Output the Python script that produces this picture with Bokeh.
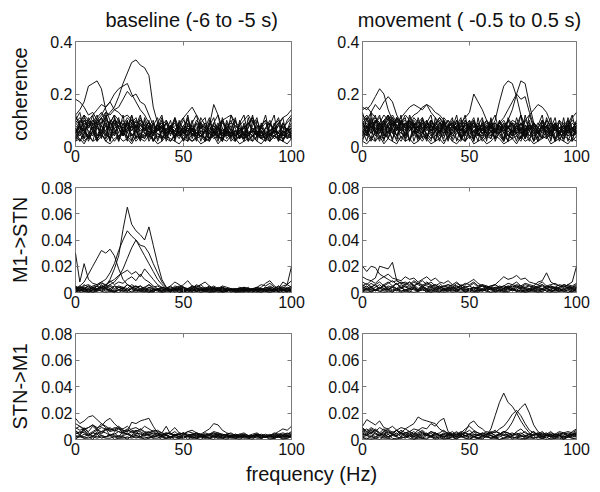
from bokeh.plotting import figure
from bokeh.layouts import column, row
from bokeh.models import Range1d, LinearAxis, FixedTicker, Label, Title, CustomLabelingPolicy
from bokeh.embed import file_html
from bokeh.resources import INLINE

# frequency grid (Hz)
freq = list(range(0, 101, 2))

# coherence, in units of 0.01
COH_UNIT = 0.01
coh_base = [
    [8,6,9,7,10,8,9,11,13,15, 19,24,28,32,33,31,30,27,15,9, 7,6,5,6,4,5,7,6,5,4, 6,5,4,6,5,4,5,6,4,5, 6,4,5,3,4,5,6,4,5,6, 5],
    [12,14,17,23,24,25,22,14,10,9, 8,7,9,6,8,7,5,6,4,7, 5,6,8,5,4,6,7,5,4,6, 5,3,5,7,4,6,5,3,4,6, 5,4,7,5,3,4,6,5,4,5, 6],
    [18,17,15,12,13,10,9,11,8,10, 9,7,8,10,8,6,7,5,6,8, 7,5,6,4,5,7,6,8,5,4, 6,5,7,4,3,5,6,4,5,3, 4,6,5,4,6,5,3,4,5,7, 6],
    [6,8,5,9,7,10,12,15,17,20, 22,23,24,20,17,14,12,9,7,8, 6,5,7,6,8,5,6,4,5,7, 6,5,4,6,5,7,4,5,6,4, 5,6,4,7,5,4,6,5,3,4, 5],
    [5,7,6,8,10,9,11,13,12,14, 15,18,21,19,20,17,16,12,8,6, 7,5,6,4,7,5,6,5,4,6, 5,7,6,4,5,6,4,5,7,5, 4,6,5,4,5,6,7,5,4,6, 5],
    [9,11,8,10,12,14,16,15,17,14, 13,11,12,10,9,10,8,7,9,6, 8,5,7,6,5,8,6,7,5,4, 6,8,5,7,6,5,4,6,5,7, 5,6,4,5,7,6,5,4,6,5, 7],
    [7,5,8,6,4,7,6,9,7,5, 8,6,9,7,10,8,6,7,5,8, 6,7,5,6,9,11,13,15,12,9, 7,6,8,5,6,7,5,4,6,8, 5,7,6,4,5,6,7,5,8,6, 7],
    [4,6,3,5,7,4,6,5,3,6, 4,5,7,4,6,3,5,4,6,5, 3,4,6,5,4,7,5,6,4,5, 6,8,16,12,7,5,4,6,5,3, 4,6,5,3,4,5,6,4,3,5, 4],
    [10,8,11,9,7,10,8,6,9,7, 8,10,7,9,6,8,7,9,6,8, 7,9,6,8,7,10,8,6,9,7, 8,6,9,7,10,11,12,9,8,10, 12,9,7,8,10,8,7,9,11,12, 14],
    [6,4,7,3,5,8,4,6,3,5, 7,4,6,8,3,5,4,7,5,3, 6,4,8,5,3,6,4,7,5,4, 3,6,5,4,7,3,5,6,4,3, 5,7,4,6,3,5,4,6,5,3, 4],
    [3,5,2,4,6,3,5,2,4,7, 3,5,4,2,6,3,4,5,2,4, 3,5,2,4,6,3,2,5,3,4, 2,5,3,4,2,6,3,2,4,5, 3,2,4,3,5,2,4,3,2,5, 3],
    [9,7,10,8,6,9,11,8,7,10, 9,6,8,10,7,9,6,8,5,7, 9,6,8,7,5,8,10,7,6,9, 7,5,8,6,9,7,5,8,6,7, 9,6,8,5,7,9,6,8,7,6, 8],
    [2,3,1,4,2,3,5,2,1,3, 4,2,3,1,4,3,2,4,3,1, 2,4,3,2,1,3,4,2,3,1, 2,3,4,1,3,2,4,3,1,2, 3,4,2,1,3,2,4,3,2,1, 3],
    [5,8,6,4,9,7,5,8,6,10, 7,5,9,6,8,4,7,9,5,6, 8,5,7,9,6,4,8,6,5,7, 9,6,4,7,5,8,6,4,7,5, 9,6,5,8,4,6,7,5,9,6, 7],
    [11,9,12,10,8,11,13,10,9,12, 10,8,11,9,7,10,8,9,7,6, 8,10,7,6,9,7,8,6,10,8, 7,9,6,8,10,7,9,8,6,7, 9,11,8,7,9,6,8,10,7,9, 11],
    [4,2,5,3,6,2,4,3,5,2, 4,6,3,5,2,4,3,6,2,5, 4,3,2,5,4,6,3,2,4,5, 3,2,5,4,3,6,2,4,3,5, 2,4,6,3,2,5,4,3,6,4, 3],
    [12,8,3,10,6,2,9,13,5,8, 11,4,7,12,3,9,6,10,2,7, 11,5,8,3,10,6,12,4,9,2, 7,11,5,8,3,10,6,2,9,12, 4,8,11,3,7,10,5,2,9,6, 11],
    [3,9,12,5,2,8,11,4,10,6, 2,9,5,12,7,3,10,4,8,11, 3,6,10,2,8,5,11,3,7,9, 2,10,6,3,11,5,8,2,10,4, 7,12,3,9,5,2,8,11,4,6, 9],
    [7,2,5,11,8,3,6,10,2,9, 5,12,3,8,6,2,11,7,4,9, 2,10,6,3,8,11,4,7,2,9, 11,3,6,9,2,7,10,4,8,3, 11,5,2,8,10,3,6,9,2,7, 4],
    [10,13,6,3,9,12,5,8,2,11, 7,4,10,2,8,12,5,3,9,6, 10,2,7,11,4,6,2,9,12,5, 3,8,11,4,2,9,6,11,3,8, 2,10,5,7,12,4,9,3,6,10, 12],
    [5,10,8,2,6,9,3,12,7,4, 10,6,2,9,11,5,3,8,10,2, 6,9,4,11,7,2,5,10,3,8, 6,2,9,12,4,7,3,10,5,2, 8,11,4,6,2,9,5,8,11,3, 6],
    [2,6,10,7,12,4,8,3,9,12, 2,7,10,4,6,11,8,2,5,9, 12,3,7,10,5,2,9,6,4,11, 8,3,6,2,10,4,12,7,3,9, 5,2,10,6,3,8,12,2,5,7, 3],
]
coh_move = [
    [15,14,16,19,22,20,14,10,8,9, 7,10,8,6,9,7,5,8,6,7, 5,8,6,4,7,5,6,8,5,7, 4,6,5,8,6,4,7,5,6,4, 7,5,6,8,4,5,7,6,4,5, 8],
    [14,15,13,16,14,17,19,17,12,9, 10,8,11,9,7,8,10,7,6,8, 7,9,6,8,5,7,6,4,7,5, 8,6,5,7,4,6,8,5,6,7, 5,6,4,7,5,8,6,5,7,4, 6],
    [8,10,7,9,11,8,10,12,9,11, 13,15,16,15,14,16,13,11,9,8, 10,7,9,6,8,10,7,9,6,8, 7,5,8,6,7,9,5,6,8,7, 5,6,8,7,9,6,5,7,8,6, 9],
    [6,8,5,7,9,6,8,10,7,9, 8,10,12,13,15,16,15,13,12,10, 8,9,7,6,8,7,9,6,8,5, 7,6,8,5,7,6,8,5,7,6, 8,5,7,6,4,7,5,6,8,7, 5],
    [7,5,8,6,9,7,5,8,6,9, 7,10,8,6,9,7,10,8,11,9, 7,10,8,9,11,13,20,17,14,10, 8,9,7,6,8,5,7,9,6,8, 7,5,8,6,9,7,5,8,6,7, 9],
    [9,7,10,8,6,9,7,11,8,6, 9,7,10,8,6,9,7,8,6,9, 7,5,8,6,9,7,5,8,6,9, 7,10,17,23,25,24,19,12,8,6, 9,7,5,8,6,9,7,5,8,6, 7],
    [5,7,9,6,8,10,7,5,8,6, 9,7,5,8,10,6,8,7,5,9, 6,8,7,5,9,6,8,7,5,6, 8,6,9,7,10,14,20,25,24,16, 9,7,6,8,5,7,6,8,5,7, 6],
    [8,6,9,7,5,8,6,9,7,5, 8,6,9,7,5,8,6,9,7,5, 8,6,7,9,5,8,6,7,5,8, 6,7,9,11,14,17,20,18,19,13, 8,6,7,5,8,6,7,9,5,6, 8],
    [10,12,9,11,8,10,12,9,7,10, 8,11,9,7,10,8,6,9,11,8, 7,9,6,8,10,7,9,6,8,7, 9,6,8,10,7,9,8,6,10,12, 14,16,15,13,9,7,10,8,6,11, 13],
    [3,5,2,6,4,3,5,7,4,2, 5,3,6,4,2,5,3,4,6,2, 4,5,3,2,6,4,3,5,2,4, 3,6,4,2,5,3,4,2,6,3, 5,2,4,3,6,2,5,4,3,2, 4],
    [7,9,6,10,8,5,9,7,11,8, 6,9,7,5,8,10,6,7,9,5, 8,6,10,7,5,8,9,6,7,10, 5,8,6,9,7,5,8,6,10,7, 9,5,8,6,7,9,5,8,6,9, 7],
    [12,10,13,11,9,12,10,8,11,9, 12,10,8,9,11,7,9,8,10,6, 8,9,7,10,8,6,9,7,8,10, 7,9,6,8,7,10,9,7,8,6, 9,7,10,8,6,9,7,8,10,7, 9],
    [2,1,3,2,4,1,3,2,1,4, 2,3,1,2,4,3,1,2,3,1, 4,2,1,3,2,4,1,2,3,1, 2,4,3,1,2,3,1,4,2,3, 1,2,3,4,1,2,3,2,1,3, 2],
    [6,4,8,5,7,3,6,9,4,7, 5,8,6,4,7,5,3,6,8,4, 6,5,7,3,6,4,8,5,4,7, 6,3,5,7,4,6,5,3,7,4, 6,5,8,4,6,3,5,7,4,6, 5],
    [4,6,3,5,8,4,6,3,7,5, 4,6,8,3,5,7,4,6,3,5, 7,4,6,3,5,8,4,6,3,5, 4,7,5,3,6,4,5,7,3,6, 4,5,3,6,4,7,5,3,6,4, 5],
    [9,11,8,10,7,9,12,8,10,7, 9,6,8,10,7,9,8,6,9,7, 10,8,6,9,7,8,10,6,9,7, 8,6,9,7,10,8,6,9,7,8, 6,9,7,10,8,6,9,7,8,10, 8],
    [9,4,11,6,2,8,12,5,3,10, 7,2,9,5,11,3,8,6,2,10, 4,7,12,3,6,9,2,8,11,4, 6,3,10,7,2,9,5,12,3,8, 6,2,10,4,7,11,3,5,9,2, 8],
    [4,11,7,2,9,5,3,10,6,12, 2,8,4,11,6,3,9,2,7,10, 5,3,8,11,2,6,10,4,7,3, 9,12,5,2,8,4,11,6,3,9, 2,7,10,5,3,8,4,11,2,6, 10],
    [13,7,3,9,12,4,8,2,11,6, 3,10,7,2,5,9,12,4,6,3, 8,11,2,7,4,10,3,6,9,2, 11,5,8,3,10,6,2,9,4,12, 7,3,6,10,2,8,5,3,11,7, 4],
    [6,2,9,12,5,10,3,7,4,9, 11,2,6,8,3,10,5,2,9,7, 3,6,10,4,2,8,11,5,3,7, 10,2,6,9,4,3,8,12,5,2, 9,6,3,11,7,2,10,4,8,3, 6],
    [2,8,5,10,3,7,11,6,2,9, 4,12,8,3,6,2,10,7,4,11, 9,2,5,8,12,3,6,2,10,5, 3,9,7,2,11,8,4,3,6,10, 2,8,12,3,5,9,2,6,10,4, 7],
    [10,5,13,4,7,2,9,11,8,3, 6,10,2,7,9,4,2,11,5,8, 2,9,6,3,10,7,2,11,4,6, 8,3,10,5,2,7,9,3,12,6, 2,4,9,7,11,3,6,2,8,12, 5],
]

# Granger causality, in units of 0.001
GC_UNIT = 0.001
gc_m1stn_base = [
    [2,3,1,2,3,2,4,5,10,18, 28,48,65,52,47,44,40,50,36,22, 10,4,3,2,4,3,2,3,5,3, 2,4,3,2,1,3,2,2,3,2, 1,2,3,2,3,2,1,2,3,2, 4],
    [3,2,4,3,5,6,8,10,15,22, 32,40,47,43,40,36,35,30,22,15, 8,4,2,3,2,1,3,2,4,2, 3,2,1,2,3,2,1,2,3,1, 2,3,2,1,2,3,2,1,2,3, 2],
    [3,5,8,14,20,26,32,30,33,28, 18,10,6,4,3,2,3,2,1,2, 3,2,1,3,2,4,2,3,1,2, 3,2,4,3,2,1,2,3,2,1, 2,3,1,2,4,3,2,1,2,3, 2],
    [2,1,3,2,4,3,5,4,6,8, 12,18,26,34,40,34,28,22,16,10, 6,3,2,1,2,3,2,1,3,2, 1,2,3,2,1,2,3,1,2,3, 2,1,2,3,1,2,1,3,2,1, 2],
    [30,8,22,10,7,6,8,5,9,6, 8,7,10,12,9,14,10,8,5,3, 2,3,2,4,3,2,3,4,2,3, 2,3,5,3,2,3,2,3,2,4, 3,2,3,2,4,3,2,5,3,6, 20],
    [4,3,5,6,4,5,7,6,8,10, 13,15,17,14,16,12,18,14,10,6, 4,3,5,8,6,4,3,5,4,6, 3,4,2,3,5,4,3,2,3,4, 3,2,4,6,5,7,4,3,5,6, 4],
    [2,4,3,5,2,3,4,6,3,5, 4,3,6,4,5,3,4,6,3,2, 4,3,2,5,4,6,9,5,4,6, 8,5,3,2,4,3,2,1,2,3, 2,3,2,4,7,9,5,3,8,6, 9],
    [1,2,1,0,2,1,3,1,2,1, 0,2,1,3,2,1,2,0,1,2, 1,3,1,2,0,1,2,1,3,1, 2,1,0,2,1,1,2,0,1,2, 1,2,1,0,2,1,3,1,2,1, 2],
    [3,4,2,5,3,2,4,3,5,2, 4,3,6,4,3,5,2,4,3,2, 4,3,5,2,3,4,2,5,3,2, 4,3,2,3,4,2,3,2,4,3, 2,3,4,2,3,5,3,2,4,3, 5],
    [5,3,6,4,2,5,3,4,6,3, 5,4,3,6,4,5,3,6,4,5, 3,2,4,3,5,4,2,3,6,4, 3,5,2,4,3,2,3,2,3,2, 3,2,4,3,2,4,3,5,2,4, 3],
    [1,0,1,1,0,2,1,0,1,1, 2,1,0,1,2,1,1,0,2,1, 0,1,1,2,0,1,1,0,1,2, 1,0,1,1,0,1,2,1,0,1, 1,0,2,1,1,0,1,1,2,0, 1],
    [2,1,3,2,1,2,4,2,3,1, 2,3,2,4,1,3,2,1,2,3, 1,2,1,3,2,1,2,3,1,2, 2,1,3,2,1,2,1,2,3,1, 2,1,2,3,1,2,1,3,2,1, 2],
    [0,2,1,3,0,1,2,4,1,0, 2,1,3,0,2,1,0,3,1,2, 0,1,2,0,3,1,0,2,1,0, 2,0,1,3,0,1,2,0,1,3, 0,2,1,0,2,1,3,0,1,2, 0],
    [4,1,3,0,2,5,1,3,2,0, 4,2,1,3,0,2,4,1,0,3, 1,2,0,3,1,0,2,1,3,0, 1,2,4,0,1,3,0,2,1,0, 3,1,0,2,1,0,2,3,0,1, 3],
    [2,5,3,1,4,2,6,3,1,5, 2,4,1,3,5,2,1,4,2,3, 1,3,2,1,4,2,3,1,2,4, 1,3,1,2,4,1,2,3,1,2, 4,1,2,3,1,2,1,4,2,3, 1],
]
gc_m1stn_move = [
    [20,16,20,19,14,12,10,8,9,7, 6,8,5,7,6,5,4,6,3,5, 4,3,5,4,3,2,4,3,5,4, 3,4,2,3,4,3,5,4,3,2, 3,4,5,3,2,4,3,5,4,3, 2],
    [12,10,9,11,20,19,18,23,9,7, 8,6,9,7,5,8,6,4,5,3, 4,6,5,3,4,5,3,4,6,5, 4,3,5,4,3,5,4,3,4,5, 3,4,3,5,4,3,4,6,5,4, 3],
    [8,6,9,7,10,12,14,11,10,9, 12,10,11,8,10,12,9,11,8,7, 9,6,8,5,7,6,8,5,6,4, 5,6,4,5,7,6,5,4,6,5, 4,5,6,4,5,3,4,6,5,4, 5],
    [5,7,4,6,8,5,7,9,6,8, 7,5,8,6,4,7,5,6,4,5, 6,4,7,5,6,8,10,7,5,4, 5,6,9,12,10,11,13,10,11,8, 7,6,8,5,6,7,5,4,6,5, 7],
    [3,5,2,4,6,3,5,4,3,6, 4,3,5,2,4,3,5,2,4,3, 2,4,3,5,2,3,4,2,3,5, 3,2,4,3,5,4,6,5,7,6, 5,8,9,15,8,6,5,4,6,8, 20],
    [6,4,7,5,3,6,8,5,7,4, 6,8,5,7,9,6,8,5,7,4, 6,5,3,6,4,5,7,4,5,3, 4,6,3,5,4,6,8,5,4,3, 5,4,6,3,5,4,6,5,3,4, 6],
    [2,1,3,2,1,2,3,1,2,4, 1,2,3,1,2,1,3,2,1,2, 1,3,2,1,2,3,1,2,1,2, 3,1,2,1,3,2,1,2,1,3, 2,1,2,3,1,2,1,2,3,1, 2],
    [4,3,5,2,4,3,2,5,3,4, 2,3,4,2,5,3,2,4,3,2, 3,2,4,3,2,3,2,4,2,3, 2,4,3,2,3,2,4,3,2,3, 2,4,2,3,4,2,3,2,4,3, 4],
    [1,0,1,2,1,0,1,1,2,0, 1,1,0,1,2,1,0,1,1,0, 1,2,1,0,1,1,0,1,2,1, 0,1,1,0,1,2,1,1,0,1, 1,0,1,2,1,0,1,1,0,1, 1],
    [3,2,4,6,3,5,2,4,7,3, 5,4,6,3,5,2,4,3,5,2, 3,4,2,3,5,2,4,3,2,4, 3,2,4,3,5,3,2,4,3,2, 4,3,2,5,3,4,2,3,4,2, 3],
    [2,3,1,2,3,2,4,2,3,1, 2,3,2,1,3,2,1,2,3,1, 2,1,2,3,1,2,1,2,1,3, 2,1,2,1,2,3,1,2,1,2, 1,2,3,1,2,1,2,1,2,3, 2],
    [1,3,0,2,4,1,2,0,3,1, 2,0,4,1,3,0,2,1,0,3, 2,0,1,3,0,2,1,0,2,1, 3,0,2,1,0,3,1,2,0,1, 2,0,3,1,0,2,1,3,0,2, 1],
    [5,2,4,1,3,6,2,4,1,3, 5,2,3,1,4,2,0,3,2,1, 4,2,1,3,0,2,4,1,3,2, 0,3,1,2,4,1,3,0,2,1, 3,2,0,4,1,2,3,1,2,0, 4],
]
gc_stnm1_base = [
    [16,12,14,17,18,15,12,10,8,7, 6,5,4,6,5,4,3,4,5,3, 4,3,2,3,4,2,3,4,3,2, 3,4,5,3,4,3,2,3,2,3, 2,3,2,3,2,3,2,3,4,3, 4],
    [12,10,8,9,11,9,10,14,16,12, 9,8,10,7,6,8,5,6,4,5, 3,4,5,3,2,4,3,2,4,3, 2,3,2,4,3,2,3,4,2,3, 2,3,4,2,3,2,3,2,3,2, 3],
    [4,6,5,3,5,7,6,8,7,9, 8,7,6,13,12,14,15,16,10,5, 4,5,4,6,3,5,4,3,5,4, 3,4,3,5,4,3,2,4,3,2, 3,2,4,3,2,3,4,3,2,3, 2],
    [8,10,7,9,11,8,12,9,7,8, 10,7,6,8,9,7,10,8,6,7, 5,4,6,9,5,4,6,7,5,4, 6,8,12,11,7,5,4,3,4,3, 2,3,4,3,2,3,4,6,8,7, 10],
    [6,5,7,4,6,8,5,7,9,6, 8,5,7,6,4,8,6,5,7,6, 5,10,4,3,5,4,6,5,4,3, 5,4,6,5,3,4,5,3,4,5, 3,4,5,3,4,3,5,4,3,4, 5],
    [3,2,4,3,2,5,3,2,4,3, 2,3,4,2,3,2,4,3,2,3, 2,3,2,4,2,3,2,3,2,4, 2,3,2,3,2,2,3,2,3,2, 3,2,3,2,2,3,2,3,2,3, 2],
    [1,2,1,1,2,1,2,1,1,2, 1,1,2,1,2,1,1,2,1,1, 2,1,1,2,1,1,2,1,1,2, 1,1,2,1,1,2,1,1,2,1, 1,2,1,1,2,1,1,2,1,1, 2],
    [5,4,6,3,5,4,6,5,3,4, 6,4,5,3,4,5,3,4,3,5, 3,4,2,3,4,5,3,4,3,2, 3,4,3,2,3,4,2,3,2,3, 2,3,4,3,2,3,2,4,3,2, 3],
    [2,3,2,4,3,2,3,2,3,2, 3,2,1,2,3,2,2,1,2,3, 2,1,2,2,1,2,3,1,2,2, 1,2,2,1,2,1,2,2,1,2, 2,1,2,1,2,2,1,2,1,2, 2],
    [9,7,8,6,10,7,9,8,6,7, 9,6,8,5,7,6,4,5,6,4, 3,5,4,3,4,5,3,4,5,3, 4,3,5,4,3,4,3,2,3,4, 3,2,3,4,3,2,3,4,5,4, 6],
    [0,3,1,2,0,4,1,2,3,0, 1,2,0,3,1,2,0,1,3,2, 0,1,2,0,1,3,0,2,1,0, 2,1,0,3,1,0,2,1,0,2, 1,0,3,1,2,0,1,2,0,1, 2],
    [7,3,9,5,2,6,4,8,3,5, 2,6,4,3,7,2,5,3,1,4, 2,3,1,4,2,1,3,2,1,3, 2,1,4,2,1,3,2,1,2,4, 1,2,3,1,2,4,1,2,3,5, 2],
]
gc_stnm1_move = [
    [5,3,6,4,3,5,2,4,3,5, 3,2,4,3,2,4,3,5,3,2, 4,3,2,4,3,2,4,3,5,3, 8,18,28,35,28,25,20,14,9,5, 3,4,2,3,4,2,3,2,3,4, 3],
    [3,4,2,5,3,4,2,3,5,2, 4,3,2,4,3,5,2,3,4,2, 3,4,2,3,5,3,2,4,3,2, 3,2,4,5,8,13,20,24,27,20, 11,6,4,3,2,4,3,2,3,2, 3],
    [6,8,5,7,4,6,8,5,7,4, 5,6,4,5,7,4,6,5,3,4, 5,3,4,6,5,7,4,3,5,4, 6,5,8,10,14,19,22,18,12,7, 5,4,6,3,5,4,3,5,4,3, 4],
    [10,15,13,11,14,9,8,10,7,9, 8,10,12,17,15,14,13,12,8,6, 5,4,6,3,5,4,6,5,3,4, 5,3,4,6,5,3,4,5,3,4, 6,3,4,5,3,4,6,5,3,4, 5],
    [7,5,8,6,9,7,5,6,4,7, 5,6,8,7,9,8,12,10,14,16, 6,4,5,3,6,12,14,10,8,5, 4,6,5,3,4,5,3,4,6,3, 4,5,3,4,2,3,4,5,6,5, 7],
    [8,6,9,7,5,8,6,4,7,5, 8,6,4,7,5,3,6,4,5,7, 4,6,3,5,8,10,7,5,4,6, 5,7,4,6,5,3,6,8,5,4, 6,3,5,4,6,3,5,4,3,6, 8],
    [2,3,1,2,3,2,1,3,2,1, 2,3,1,2,1,3,2,1,2,3, 1,2,1,2,3,1,2,1,3,2, 1,2,3,1,2,1,2,3,1,2, 1,2,1,3,2,1,2,1,2,3, 2],
    [4,3,5,2,4,3,2,4,3,5, 2,4,3,2,4,3,5,2,3,4, 2,3,4,2,3,4,2,3,2,4, 3,2,4,3,2,3,4,2,3,2, 4,3,2,3,2,4,3,2,3,4, 3],
    [1,1,0,1,2,1,1,0,1,1, 2,1,0,1,1,1,2,0,1,1, 1,0,1,2,1,1,0,1,1,2, 1,1,0,1,1,2,1,0,1,1, 1,2,1,0,1,1,1,0,2,1, 1],
    [6,4,7,5,3,6,4,5,7,3, 5,4,6,3,5,4,2,4,3,5, 3,4,2,5,3,4,6,3,4,2, 5,3,4,6,3,4,5,3,2,4, 3,5,2,4,3,2,4,3,5,4, 6],
    [2,0,3,1,0,2,4,1,0,2, 1,3,0,2,1,0,3,1,2,0, 1,2,0,3,1,0,2,1,0,3, 1,2,0,1,3,0,2,1,0,2, 3,0,1,2,0,1,3,0,2,1, 0],
    [9,6,4,8,5,3,7,4,2,6, 3,5,2,4,6,3,2,5,3,1, 4,2,3,5,2,4,3,1,2,4, 3,1,2,4,3,2,1,3,2,4, 1,2,3,1,4,2,3,1,2,3, 5],
]

col_titles = ["baseline (-6 to -5 s)", "movement ( -0.5 to 0.5 s)"]
row_labels = ["coherence", "M1->STN", "STN->M1"]
x_label = "frequency (Hz)"
x_ticks = [0, 50, 100]
x_tick_labels = ["0", "50", "100"]
coh_ticks = [0, 0.2, 0.4]
coh_tick_labels = ["0", "0.2", "0.4"]
gc_ticks = [0, 0.02, 0.04, 0.06, 0.08]
gc_tick_labels = ["0", "0.02", "0.04", "0.06", "0.08"]

FONT = "Liberation Sans"
FRAME_COL = "#7a7a7a"
LINE_COL = "#0a0a0a"

panels = [
    [(coh_base, COH_UNIT, coh_ticks, coh_tick_labels), (coh_move, COH_UNIT, coh_ticks, coh_tick_labels)],
    [(gc_m1stn_base, GC_UNIT, gc_ticks, gc_tick_labels), (gc_m1stn_move, GC_UNIT, gc_ticks, gc_tick_labels)],
    [(gc_stnm1_base, GC_UNIT, gc_ticks, gc_tick_labels), (gc_stnm1_move, GC_UNIT, gc_ticks, gc_tick_labels)],
]

frame_h = [105, 105, 106]
border_top = [41, 19, 19]
border_bottom = [22, 22, 21]
label_standoff = [16, 7, 7]


def style_axis(ax, show_labels):
    ax.major_tick_in = 4
    ax.major_tick_out = 0
    ax.minor_tick_line_color = None
    ax.axis_line_color = None
    ax.major_tick_line_color = FRAME_COL
    ax.major_label_text_font = FONT
    ax.major_label_text_color = "#111111"
    if show_labels:
        ax.major_label_text_font_size = "16px"
        ax.major_label_standoff = 3
    else:
        ax.major_label_text_font_size = "1px"
        ax.major_label_standoff = 0
        ax.major_label_policy = CustomLabelingPolicy(
            code="for (const i of indices) indices.unset(i)")


def make_panel(r, c):
    lines, unit, yticks, ytlabels = panels[r][c]
    left = c == 0
    p = figure(frame_width=216 if left else 214, frame_height=frame_h[r],
               min_border_left=75 if left else 44, min_border_right=27 if left else 16,
               min_border_top=border_top[r], min_border_bottom=border_bottom[r],
               x_range=Range1d(0, 100), y_range=Range1d(0, yticks[-1]),
               toolbar_location=None, output_backend="svg")
    p.background_fill_color = "white"
    p.border_fill_color = "white"
    p.outline_line_color = FRAME_COL
    p.outline_line_width = 1
    p.xgrid.visible = False
    p.ygrid.visible = False
    for ys in lines:
        p.line(freq[:len(ys)], [v * unit for v in ys], line_color=LINE_COL,
               line_width=0.95)
    xa = p.xaxis[0]
    xa.ticker = FixedTicker(ticks=x_ticks)
    xa.major_label_overrides = dict(zip(x_ticks, x_tick_labels))
    style_axis(xa, True)
    ya = p.yaxis[0]
    ya.ticker = FixedTicker(ticks=yticks)
    ya.major_label_overrides = dict(zip(yticks, ytlabels))
    style_axis(ya, True)
    if left:
        ya.axis_label = row_labels[r]
        ya.axis_label_text_font = FONT
        ya.axis_label_text_font_size = "20px"
        ya.axis_label_text_font_style = "normal"
        ya.axis_label_text_color = "#111111"
        ya.axis_label_standoff = label_standoff[r]
    top = LinearAxis(ticker=FixedTicker(ticks=x_ticks))
    style_axis(top, False)
    p.add_layout(top, "above")
    rgt = LinearAxis(ticker=FixedTicker(ticks=yticks))
    style_axis(rgt, False)
    p.add_layout(rgt, "right")
    if r == 0:
        p.title = Title(text=col_titles[c], align="left" if left else "center",
                        text_font=FONT, text_font_size="20px",
                        text_font_style="normal", text_color="#111111",
                        offset=30 if left else 0, standoff=13)
    return p


rows = [row(make_panel(r, 0), make_panel(r, 1)) for r in range(3)]

lab = figure(width=592, height=26, x_range=Range1d(0, 1), y_range=Range1d(0, 1),
             toolbar_location=None, output_backend="svg",
             min_border=0, x_axis_location=None, y_axis_location=None)
lab.outline_line_color = None
lab.xgrid.visible = False
lab.ygrid.visible = False
lab.add_layout(Label(x=0.5, y=0.5, x_offset=15, text=x_label, text_align="center",
                     text_baseline="middle", text_font=FONT, text_font_size="20px",
                     text_color="#111111"))

page = column(*rows, lab)
open("out.html", "w").write(file_html(page, INLINE))
